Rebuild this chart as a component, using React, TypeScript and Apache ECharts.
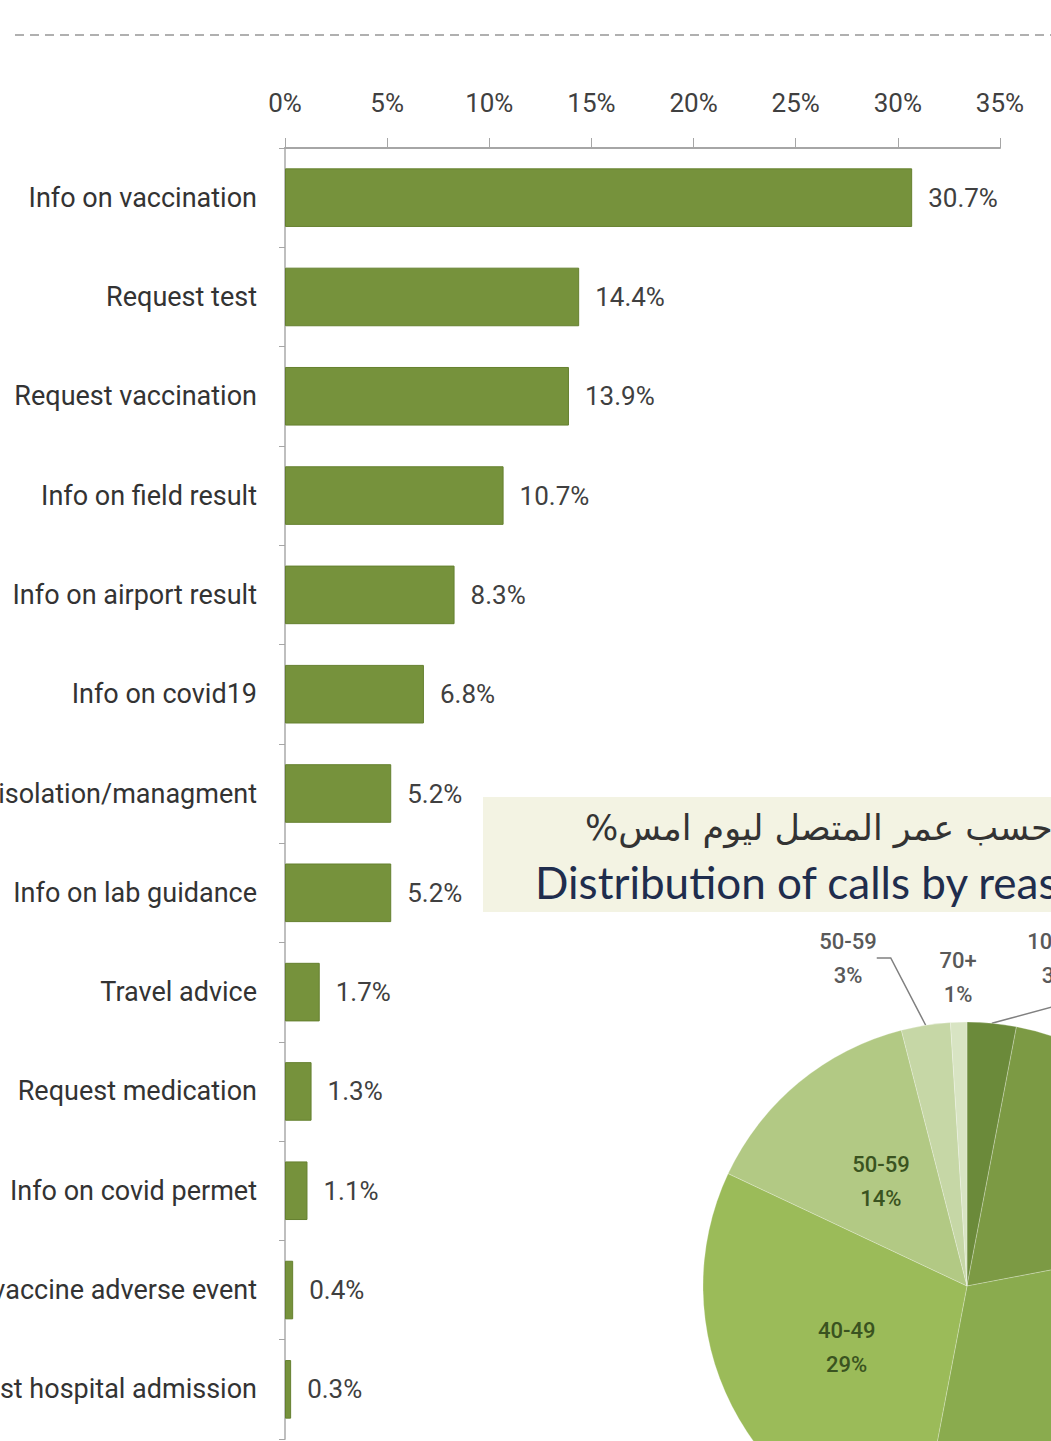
import React, { useEffect, useRef } from "react";
import * as echarts from "echarts";

const categories = [
  "Info on vaccination",
  "Request test",
  "Request vaccination",
  "Info on field result",
  "Info on airport result",
  "Info on covid19",
  "Info on isolation/managment",
  "Info on lab guidance",
  "Travel advice",
  "Request medication",
  "Info on covid permet",
  "Info on vaccine adverse event",
  "Request hospital admission",
];
const values = [30.7, 14.4, 13.9, 10.7, 8.3, 6.8, 5.2, 5.2, 1.7, 1.3, 1.1, 0.4, 0.3];
const xTicks = [0, 5, 10, 15, 20, 25, 30, 35];

const ageGroups = ["10-19", "20-29", "30-39", "40-49", "50-59", "50-59", "70+"];
const agePercents = [3, 19, 31, 29, 14, 3, 1];
const ageColors = ["#6b8a3a", "#7c9a44", "#8aab4e", "#9bbb59", "#b2c984", "#c6d7a6", "#d8e4c3"];

const titleArabic = "%توزيع المكالمات حسب عمر المتصل ليوم امس";
const titleEnglish = "Distribution of calls by reason of the caller";

const FONT = "'Roboto', sans-serif";

export default function App() {
  const ref = useRef<HTMLDivElement>(null);
  useEffect(() => {
    if (!ref.current) return;
    const chart = echarts.init(ref.current, undefined, { renderer: "svg" });
    const outerIdx = [0, 5, 6];
    const hiddenIdx = [1, 2];
    chart.setOption({
      animation: false,
      backgroundColor: "#ffffff",
      textStyle: { fontFamily: FONT },
      grid: {
        left: 285,
        right: 51,
        top: 148,
        bottom: 2,
        containLabel: false,
        outerBoundsMode: "none",
      },
      xAxis: {
        type: "value",
        position: "top",
        min: xTicks[0],
        max: xTicks[xTicks.length - 1],
        interval: 5,
        axisLine: { show: true, lineStyle: { color: "#a6a6a6", width: 2 } },
        axisTick: { show: true, length: 10, lineStyle: { color: "#a6a6a6" } },
        splitLine: { show: false },
        axisLabel: {
          formatter: "{value}%",
          fontSize: 26,
          color: "#404040",
          margin: 32,
          fontFamily: FONT,
        },
      },
      yAxis: {
        type: "category",
        inverse: true,
        data: categories,
        axisLine: { show: true, lineStyle: { color: "#bfbfbf", width: 2 } },
        axisTick: { show: true, length: 6, lineStyle: { color: "#a6a6a6" } },
        axisLabel: { fontSize: 27, color: "#333333", margin: 28, fontFamily: FONT },
      },
      series: [
        {
          type: "bar",
          data: values,
          barWidth: "59%",
          itemStyle: { color: "#76923c", borderColor: "#65802f", borderWidth: 1 },
          label: {
            show: true,
            position: "right",
            distance: 16,
            formatter: (p: any) => p.value.toFixed(1) + "%",
            fontSize: 26,
            color: "#404040",
            fontFamily: FONT,
          },
        },
        {
          type: "pie",
          center: [967, 1286],
          radius: 264,
          startAngle: 90,
          clockwise: true,
          z: 5,
          data: ageGroups.map((name, i) => ({
            name,
            value: agePercents[i],
            itemStyle: { color: ageColors[i] },
            label: outerIdx.includes(i)
              ? { position: "outside", color: "#595959" }
              : { position: "inside", color: "#3a5320", show: !hiddenIdx.includes(i) },
            labelLine: { show: i !== 6 },
          })),
          label: {
            show: true,
            formatter: (p: any) => p.name + "\n" + p.value + "%",
            fontSize: 22,
            fontWeight: 500,
            lineHeight: 34,
            align: "center",
            overflow: "none",
            fontFamily: FONT,
          },
          labelLayout: (p: any) => {
            if (p.dataIndex === 0) return { x: 1056, y: 958, align: "center", verticalAlign: "middle" };
            if (p.dataIndex === 5) return { x: 848, y: 958, align: "center", verticalAlign: "middle" };
            if (p.dataIndex === 6) return { x: 958, y: 977, align: "center", verticalAlign: "middle" };
            return {};
          },
          labelLine: { length: 30, length2: 14, lineStyle: { color: "#808080", width: 1.5 } },
          itemStyle: { borderColor: "rgba(255,255,255,0.25)", borderWidth: 1 },
        },
      ],
      graphic: [
        {
          type: "line",
          shape: { x1: 15, y1: 35, x2: 1051, y2: 35 },
          style: { stroke: "#b0b0b0", lineWidth: 2, lineDash: [9, 6] },
        },
        {
          type: "rect",
          shape: { x: 483, y: 797, width: 600, height: 115 },
          style: { fill: "#f3f3e3" },
          z: 10,
        },
        {
          type: "text",
          x: 585,
          y: 828,
          z: 11,
          style: {
            text: titleArabic,
            fontSize: 35,
            fill: "#333333",
            fontFamily: "'DejaVu Sans', sans-serif",
            textAlign: "left",
            textVerticalAlign: "middle",
          },
        },
        {
          type: "text",
          x: 535,
          y: 882,
          z: 11,
          style: {
            text: titleEnglish,
            fontSize: 44,
            fill: "#1f2d4d",
            fontFamily: "'Lato', 'Open Sans', sans-serif",
            textAlign: "left",
            textVerticalAlign: "middle",
          },
        },
      ],
    });
    return () => chart.dispose();
  }, []);
  return (
    <div
      ref={ref}
      style={{ position: "absolute", left: 0, top: 0, width: 1051, height: 1441 }}
    />
  );
}
